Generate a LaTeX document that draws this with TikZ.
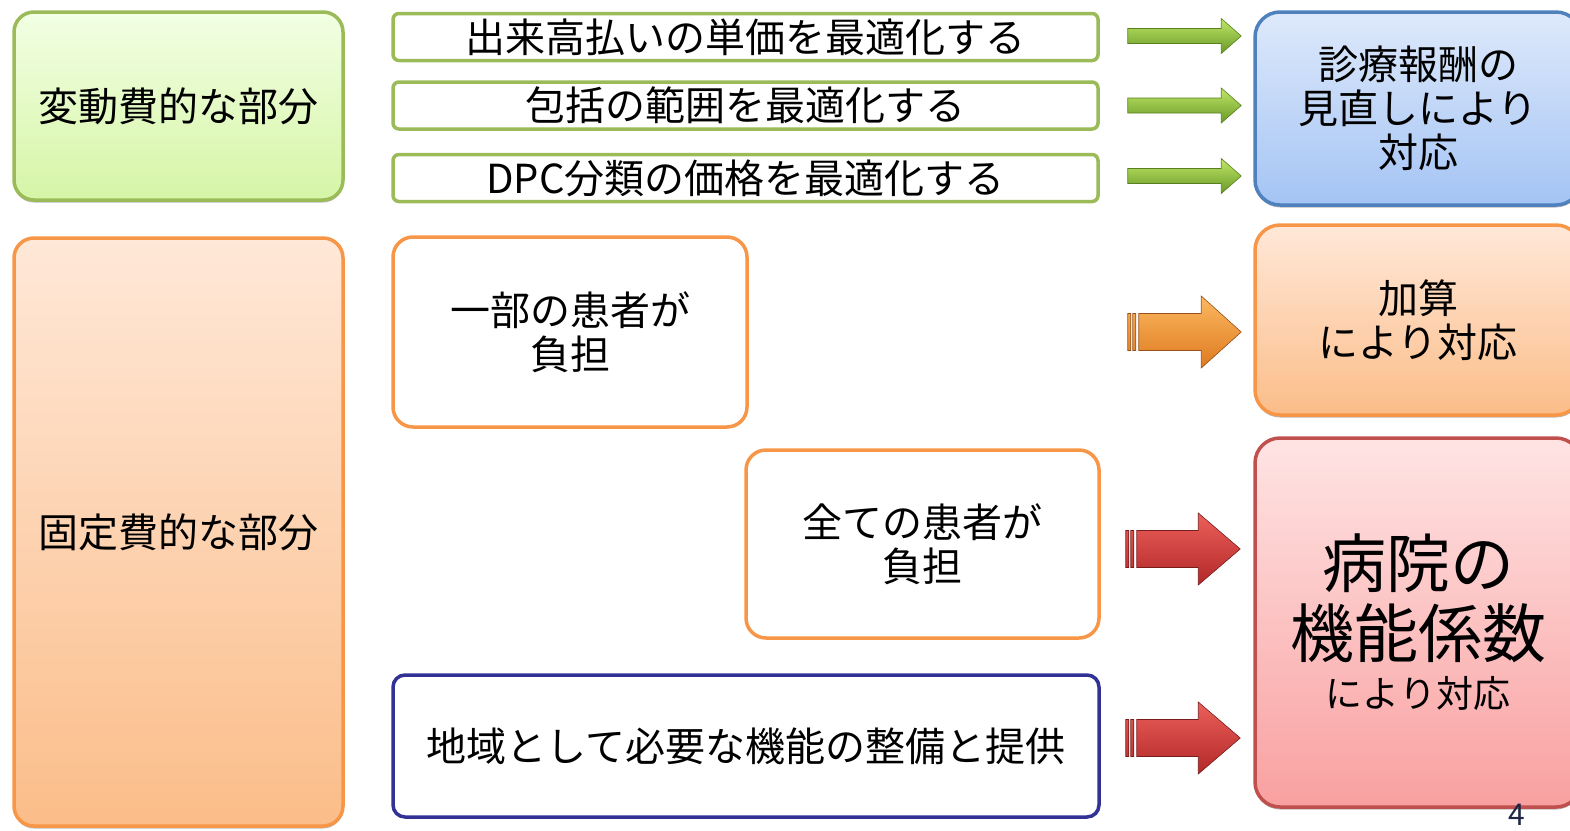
\documentclass[tikz,border=0pt]{standalone}
\usepackage{fontspec}
\newfontfamily\jp{Noto Sans CJK JP}
\usetikzlibrary{calc,shadows}

\definecolor{vert}{RGB}{155,187,89}
\definecolor{vertA}{RGB}{242,255,228}
\definecolor{vertB}{RGB}{214,245,166}
\definecolor{orange}{RGB}{247,150,70}
\definecolor{orangeA}{RGB}{255,232,216}
\definecolor{orangeB}{RGB}{251,189,137}
\definecolor{bleu}{RGB}{79,129,189}
\definecolor{bleuA}{RGB}{222,233,251}
\definecolor{bleuB}{RGB}{164,196,244}
\definecolor{rouge}{RGB}{192,80,77}
\definecolor{rougeA}{RGB}{255,228,228}
\definecolor{rougeB}{RGB}{249,160,160}
\definecolor{marine}{RGB}{50,50,150}
\definecolor{numero}{RGB}{30,40,70}

\tikzset{
	fleche/.style n args={3}{to path={let \p1=(\tikztostart), \p2=(\tikztotarget) in
		(\x1,\y1+#1) -- (\x2-#3,\y1+#1) -- (\x2-#3,\y1+#2) -- (\x2,\y1) -- (\x2-#3,\y1-#2) -- (\x2-#3,\y1-#1) -- (\x1,\y1-#1) -- cycle}},
	flechebis/.style n args={3}{to path={let \p1=(\tikztostart), \p2=(\tikztotarget) in
		(\x1,\y1+#1) rectangle (\x1+3pt,\y1-#1) (\x1+5pt,\y1+#1) rectangle (\x1+8pt,\y1-#1)
		(\x1+11pt,\y1+#1) -- (\x2-#3,\y1+#1) -- (\x2-#3,\y1+#2) -- (\x2,\y1) -- (\x2-#3,\y1-#2) -- (\x2-#3,\y1-#1) -- (\x1+11pt,\y1-#1) -- cycle}}
}

\begin{document}
\begin{tikzpicture}[x=1pt,y=-1pt]
	\tikzstyle{boite}=[rounded corners=20pt, line width=3.5pt, align=center, inner sep=0pt, font=\jp\fontsize{40}{44}\selectfont]
	\tikzstyle{ombre}=[drop shadow={shadow xshift=0pt, shadow yshift=-2.5pt, opacity=0.55}]
	\tikzstyle{ligne}=[boite, rounded corners=6pt, draw=vert, fill=white, minimum width=705pt, minimum height=47pt]
	\tikzstyle{vertfl}=[top color={rgb,255:red,192;green,232;blue,104}, bottom color={rgb,255:red,104;green,152;blue,38}, draw={rgb,255:red,88;green,128;blue,30}, line width=0.6pt]
	\tikzstyle{orangefl}=[top color={rgb,255:red,252;green,184;blue,96}, bottom color={rgb,255:red,222;green,122;blue,32}, draw={rgb,255:red,150;green,80;blue,24}, line width=0.6pt]
	\tikzstyle{rougefl}=[top color={rgb,255:red,236;green,96;blue,90}, bottom color={rgb,255:red,178;green,40;blue,40}, draw={rgb,255:red,120;green,28;blue,28}, line width=0.6pt]
	\useasboundingbox (0,0) rectangle (1570,830);

	% gauche
	\node[boite, draw=vert, top color=vertA, bottom color=vertB, ombre, minimum width=329pt, minimum height=188pt] (var) at (178.5,106) {変動費的な部分};
	\node[boite, draw=orange, top color=orangeA, bottom color=orangeB, ombre, minimum width=329pt, minimum height=588pt] (fixe) at (178.5,532) {固定費的な部分};

	% milieu
	\node[ligne] (l1) at (745.5,37) {出来高払いの単価を最適化する};
	\node[ligne] (l2) at (745.5,105.5) {包括の範囲を最適化する};
	\node[ligne] (l3) at (745.5,178) {DPC分類の価格を最適化する};
	\node[boite, draw=orange, fill=white, minimum width=354pt, minimum height=190pt] (partie) at (570,332) {一部の患者が\\負担};
	\node[boite, draw=orange, fill=white, minimum width=353pt, minimum height=188pt] (tous) at (922.5,544) {全ての患者が\\負担};
	\node[boite, draw=marine, fill=white, rounded corners=12pt, minimum width=706pt, minimum height=142pt] (region) at (746,746) {地域として必要な機能の整備と提供};

	% droite
	\node[boite, draw=bleu, top color=bleuA, bottom color=bleuB, ombre, rounded corners=25pt, minimum width=326pt, minimum height=193pt] (tarif) at (1418,108.5) {診療報酬の\\見直しにより\\対応};
	\node[boite, draw=orange, top color=orangeA, bottom color=orangeB, ombre, rounded corners=25pt, minimum width=326pt, minimum height=190pt] (ajout) at (1418,320) {加算\\により対応};
	\node[boite, draw=rouge, top color=rougeA, bottom color=rougeB, ombre, rounded corners=25pt, minimum width=326pt, minimum height=369pt, font=\jp\fontsize{64}{70}\selectfont] (coef) at (1418,622.5) {病院の\\機能係数\\[-20pt]{\fontsize{37}{40}\selectfont により対応}};

	% fleches
	\coordinate (g1a) at ($(l1.east)+(28,-1)$);
	\coordinate (g1b) at ($(l1.east -| tarif.west)+(-12,-1)$);
	\coordinate (g2a) at ($(l2.east)+(28,0)$);
	\coordinate (g2b) at ($(l2.east -| tarif.west)+(-12,0)$);
	\coordinate (g3a) at ($(l3.east)+(28,-2)$);
	\coordinate (g3b) at ($(l3.east -| tarif.west)+(-12,-2)$);
	\coordinate (o1a) at ($(partie.east)+(379,0)$);
	\coordinate (o1b) at ($(partie.east -| ajout.west)+(-12,0)$);
	\coordinate (r1a) at ($(tous.east)+(25,5)$);
	\coordinate (r1b) at ($(tous.east -| coef.west)+(-13,5)$);
	\coordinate (r2a) at ($(region.east)+(25,-8)$);
	\coordinate (r2b) at ($(region.east -| coef.west)+(-13,-8)$);
	\path[vertfl, fleche={7.5pt}{17.5pt}{20pt}] (g1a) to (g1b);
	\path[vertfl, fleche={7.5pt}{17.5pt}{20pt}] (g2a) to (g2b);
	\path[vertfl, fleche={7.5pt}{17.5pt}{20pt}] (g3a) to (g3b);
	\path[orangefl, flechebis={18.5pt}{36pt}{40pt}] (o1a) to (o1b);
	\path[rougefl, flechebis={18.5pt}{36pt}{42pt}] (r1a) to (r1b);
	\path[rougefl, flechebis={18.5pt}{36pt}{42pt}] (r2a) to (r2b);

	\node[font=\jp\fontsize{30}{30}\selectfont, text=numero, inner sep=0pt] (page) at (1517,815) {4};
\end{tikzpicture}
\end{document}
